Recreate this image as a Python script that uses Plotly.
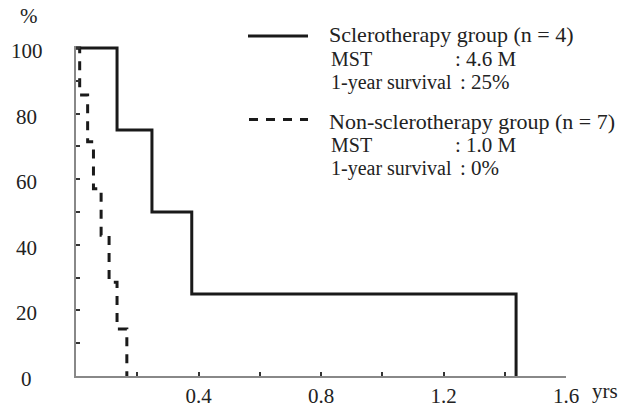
import plotly.graph_objects as go

# ---- data ----
sclero_times = [0, 0.134, 0.248, 0.378, 1.437]
sclero_surv = [100, 75, 50, 25, 0]
nonsclero_times = [0, 0.012, 0.038, 0.057, 0.082, 0.108, 0.134, 0.166]
nonsclero_surv = [100, 85.7, 71.4, 57.1, 42.9, 28.6, 14.3, 0]

x_tick_vals = [0, 0.2, 0.4, 0.6, 0.8, 1.0, 1.2, 1.4, 1.6]
x_tick_text = ["", "", "0.4", "", "0.8", "", "1.2", "", "1.6"]
y_tick_vals = [0, 10, 20, 30, 40, 50, 60, 70, 80, 90, 100]
y_label_vals = [0, 20, 40, 60, 80, 100]

legend_rows = [
    ("Sclerotherapy group (n = 4)", None),
    ("MST", ": 4.6 M"),
    ("1-year survival", ": 25%"),
    ("Non-sclerotherapy group (n = 7)", None),
    ("MST", ": 1.0 M"),
    ("1-year survival", ": 0%"),
]

# ---- layout geometry ----
W, H = 632, 403
ML, MR, MT, MB = 76, 66, 46, 27
PW = W - ML - MR
PH = H - MT - MB
BOTTOM = H - MB

def px(xp):
    return (xp - ML) / PW

def py(yp):
    return (BOTTOM - yp) / PH

FONT = "Liberation Serif, Times New Roman, serif"
TXT = "#222222"

fig = go.Figure()
fig.add_trace(go.Scatter(x=sclero_times, y=sclero_surv, mode="lines",
                         line=dict(shape="hv", color="#1a1a1a", width=3),
                         showlegend=False))
fig.add_trace(go.Scatter(x=nonsclero_times, y=nonsclero_surv, mode="lines",
                         line=dict(shape="hv", color="#1a1a1a", width=3, dash="9px,8px"),
                         showlegend=False))

annotations = []
# y tick labels (centered column)
for v in y_label_vals:
    annotations.append(dict(x=px(26.5), y=v, xref="paper", yref="y", text=str(v),
                            showarrow=False, xanchor="center", yanchor="middle",
                            yshift=-3, font=dict(family=FONT, size=21, color=TXT)))
# axis unit labels
annotations.append(dict(x=px(29), y=py(16), xref="paper", yref="paper", text="%",
                        showarrow=False, xanchor="center", yanchor="middle",
                        font=dict(family=FONT, size=21, color=TXT)))
annotations.append(dict(x=px(605), y=py(391), xref="paper", yref="paper", text="yrs",
                        showarrow=False, xanchor="center", yanchor="middle",
                        font=dict(family=FONT, size=21, color=TXT)))

# legend block
row_y = [35, 59, 82, 121, 145, 168]
col2_x = [None, 453, 458, None, 453, 458]
for (t1, t2), yy, cx in zip(legend_rows, row_y, col2_x):
    if t2 is None:
        annotations.append(dict(x=px(327), y=py(yy), xref="paper", yref="paper", text=t1,
                                showarrow=False, xanchor="left", yanchor="middle",
                                font=dict(family=FONT, size=22, color=TXT)))
    else:
        annotations.append(dict(x=px(329), y=py(yy), xref="paper", yref="paper", text=t1,
                                showarrow=False, xanchor="left", yanchor="middle",
                                font=dict(family=FONT, size=20, color=TXT)))
        annotations.append(dict(x=px(cx), y=py(yy), xref="paper", yref="paper", text=t2,
                                showarrow=False, xanchor="left", yanchor="middle",
                                font=dict(family=FONT, size=21, color=TXT)))

shapes = [
    dict(type="line", xref="paper", yref="paper", x0=px(248), x1=px(308),
         y0=py(36), y1=py(36), line=dict(color="#1a1a1a", width=3)),
    dict(type="line", xref="paper", yref="paper", x0=px(249), x1=px(308),
         y0=py(119.5), y1=py(119.5), line=dict(color="#1a1a1a", width=3, dash="9px,8px")),
]

fig.update_layout(
    width=W, height=H,
    margin=dict(l=ML, r=MR, t=MT, b=MB, autoexpand=False),
    paper_bgcolor="white", plot_bgcolor="white",
    annotations=annotations, shapes=shapes,
    xaxis=dict(range=[0, 1.6], tickmode="array", tickvals=x_tick_vals, ticktext=x_tick_text,
               ticks="inside", ticklen=4, tickwidth=1.5, tickcolor="#333333",
               showline=True, linecolor="#888888", linewidth=2, showgrid=False, zeroline=False,
               tickfont=dict(family=FONT, size=21, color=TXT), ticklabelstandoff=0,
               automargin=False, fixedrange=True),
    yaxis=dict(range=[0, 100.6], tickmode="array", tickvals=y_tick_vals,
               ticks="inside", ticklen=4, tickwidth=1.5, tickcolor="#333333",
               showticklabels=False,
               showline=True, linecolor="#888888", linewidth=2, showgrid=False, zeroline=False,
               automargin=False, fixedrange=True),
    showlegend=False,
)

fig.write_html("out.html", config={"displayModeBar": False},
               post_script="document.body.style.margin='0';document.body.style.padding='0';")
